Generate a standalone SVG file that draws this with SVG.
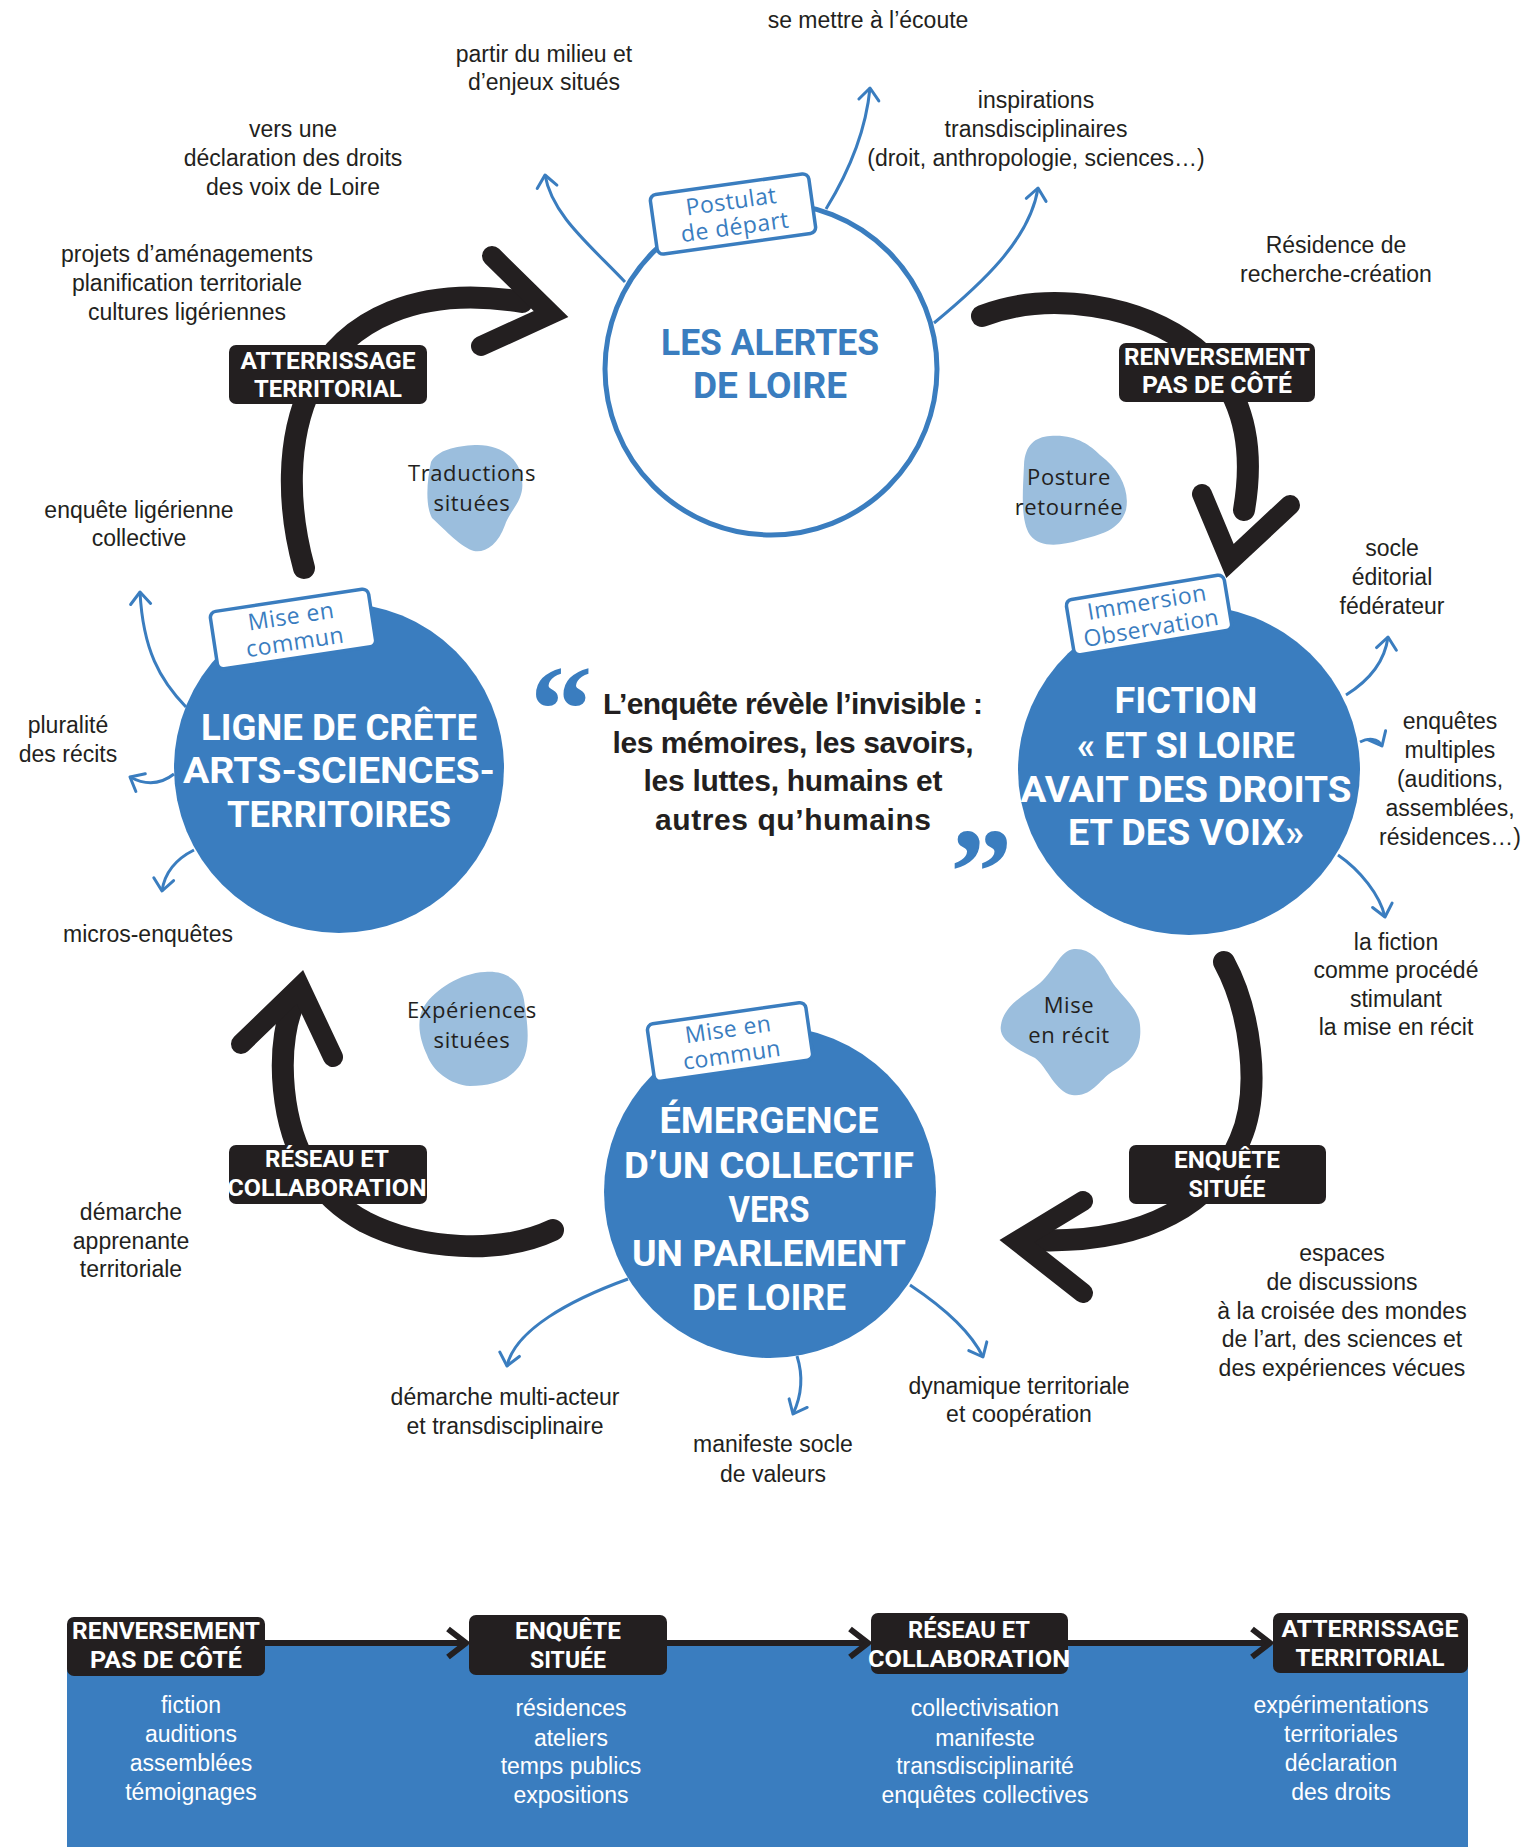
<svg xmlns="http://www.w3.org/2000/svg" width="1529" height="1847" viewBox="0 0 1529 1847">
<style>
.ann{font-family:"Liberation Sans",Arial,sans-serif;font-size:23px;fill:#231f20;text-anchor:middle}
.bot{font-family:"Liberation Sans",Arial,sans-serif;font-size:23px;fill:#ffffff;text-anchor:middle}
.blobt{font-family:"Open Sans","Noto Sans",sans-serif;font-size:22px;fill:#231f20;text-anchor:middle;letter-spacing:0.6px}
.tagt{font-family:"Open Sans","Noto Sans",sans-serif;font-size:23px;fill:#3a7dbf;text-anchor:middle;letter-spacing:0.5px}
.big{font-family:Roboto,"Liberation Sans",sans-serif;font-weight:700;font-size:36px;fill:#ffffff;text-anchor:middle}
.bigb{font-family:Roboto,"Liberation Sans",sans-serif;font-weight:700;font-size:36px;fill:#3a7dbf;text-anchor:middle}
.boxt{font-family:Roboto,"Liberation Sans",sans-serif;font-weight:700;font-size:23px;fill:#ffffff;text-anchor:middle}
.quote{font-family:"Liberation Sans",Arial,sans-serif;font-weight:700;font-size:30px;fill:#231f20;text-anchor:middle}
.qm{font-family:"Liberation Serif","Times New Roman",serif;font-weight:700;font-size:125px;fill:#3a7dbf}
.box{fill:#231f20}
.tag{fill:#ffffff;stroke:#3a7dbf;stroke-width:3.5}
.blob{fill:#9bbedd}
.brush{fill:none;stroke:#231f20;stroke-width:22;stroke-linecap:round}
.head{fill:none;stroke:#231f20;stroke-width:20;stroke-linecap:round;stroke-linejoin:miter;stroke-miterlimit:6}
.thin{fill:none;stroke:#3a7dbf;stroke-width:3;marker-end:url(#bh)}
.flow{fill:none;stroke:#231f20;stroke-width:6;marker-end:url(#kh)}
</style>
<defs>
<marker id="bh" markerUnits="userSpaceOnUse" markerWidth="30" markerHeight="30" viewBox="-15 -15 30 30" refX="0" refY="0" orient="auto">
<path d="M-12,-10 L0,0 L-12,10" fill="none" stroke="#3a7dbf" stroke-width="3" stroke-linecap="round" stroke-linejoin="round"/>
</marker>
<marker id="kh" markerUnits="userSpaceOnUse" markerWidth="40" markerHeight="40" viewBox="-20 -20 40 40" refX="0" refY="0" orient="auto">
<path d="M-18,-14 L0,0 L-18,14" fill="none" stroke="#231f20" stroke-width="6"/>
</marker>
</defs>
<rect width="1529" height="1847" fill="#ffffff"/>

<g id="connectors">
<path class="brush" d="M304,568 C288,510 285,440 312,385 C345,318 420,285 522,302"/>
<polyline class="head" points="492,256 551,314 481,346"/>
<path class="brush" d="M982,316 C1050,290 1140,305 1195,348 C1240,385 1256,440 1244,510"/>
<polyline class="head" points="1202,494 1230,561 1290,505"/>
<path class="brush" d="M1224,962 C1250,1010 1262,1090 1240,1140 C1215,1200 1150,1245 1032,1240"/>
<polyline class="head" points="1083,1201 1017,1241 1083,1293"/>
<path class="brush" d="M553,1230 C500,1255 420,1250 365,1222 C315,1195 290,1150 284,1090 C280,1050 286,1015 298,995"/>
<polyline class="head" points="241,1044 300,987 333,1057"/>
<path class="thin" d="M625,282 C590,245 552,215 545,175"/>
<path class="thin" d="M826,209 C850,170 866,130 870,88"/>
<path class="thin" d="M934,323 C980,285 1030,240 1038,188"/>
<path class="thin" d="M186,707 C160,680 143,650 140,592"/>
<path class="thin" d="M174,774 C160,785 145,785 130,777"/>
<path class="thin" d="M194,850 C178,858 165,870 162,891"/>
<path class="thin" d="M1346,695 C1370,680 1385,660 1388,637"/>
<path class="thin" d="M1360,742 C1368,738 1378,738 1382,746"/>
<path class="thin" d="M1338,855 C1360,870 1380,895 1385,917"/>
<path class="thin" d="M628,1279 C570,1300 515,1330 507,1366"/>
<path class="thin" d="M797,1356 C803,1375 802,1395 793,1414"/>
<path class="thin" d="M910,1285 C940,1305 970,1330 983,1357"/>
</g>

<g id="blob-traductions">
<path class="blob" d="M475,445 C500,444 520,458 522,480 C525,500 510,510 505,525 C498,545 485,553 474,551 C462,548 445,530 432,518 C425,505 427,480 431,462 C438,450 455,446 475,445 Z"/>
<text class="blobt" x="472" y="481">Traductions</text>
<text class="blobt" x="472" y="511">situées</text>
</g>
<g id="blob-posture">
<path class="blob" d="M1050,436 C1075,434 1090,445 1100,455 C1120,470 1130,490 1126,510 C1120,530 1100,535 1080,540 C1060,546 1040,548 1030,535 C1020,520 1023,490 1024,465 C1025,445 1035,437 1050,436 Z"/>
<text class="blobt" x="1069" y="485">Posture</text>
<text class="blobt" x="1069" y="515">retournée</text>
</g>
<g id="blob-experiences">
<path class="blob" d="M485,972 C510,970 522,985 524,1000 C527,1020 530,1040 525,1055 C518,1075 500,1086 470,1086 C450,1085 432,1070 427,1055 C420,1040 415,1020 425,1005 C435,990 460,973 485,972 Z"/>
<text class="blobt" x="472" y="1018">Expériences</text>
<text class="blobt" x="472" y="1048">situées</text>
</g>
<g id="blob-recit">
<path class="blob" d="M1074,949 C1090,948 1100,960 1108,975 C1118,995 1138,1005 1140,1025 C1142,1045 1135,1060 1115,1070 C1100,1078 1092,1098 1072,1095 C1055,1092 1048,1068 1035,1058 C1015,1048 998,1040 1001,1025 C1004,1005 1025,995 1040,983 C1055,970 1060,950 1074,949 Z"/>
<text class="blobt" x="1069" y="1013">Mise</text>
<text class="blobt" x="1069" y="1043">en récit</text>
</g>

<g id="node-alertes">
<circle cx="771" cy="369" r="166" fill="#ffffff" stroke="#3a7dbf" stroke-width="5"/>
<text class="bigb" x="770" y="355" textLength="218" lengthAdjust="spacingAndGlyphs">LES ALERTES</text>
<text class="bigb" x="770" y="398" textLength="154" lengthAdjust="spacingAndGlyphs">DE LOIRE</text>
<g transform="translate(733,214) rotate(-8)">
<rect class="tag" x="-80" y="-30" width="160" height="60" rx="6"/>
<text class="tagt" x="0" y="-5">Postulat</text>
<text class="tagt" x="0" y="21">de départ</text>
</g>
</g>

<g id="node-ligne">
<circle cx="339" cy="768" r="165" fill="#3a7dbf"/>
<text class="big" x="339" y="740" textLength="276" lengthAdjust="spacingAndGlyphs">LIGNE DE CRÊTE</text>
<text class="big" x="339" y="783" textLength="312" lengthAdjust="spacingAndGlyphs">ARTS-SCIENCES-</text>
<text class="big" x="339" y="827" textLength="224" lengthAdjust="spacingAndGlyphs">TERRITOIRES</text>
<g transform="translate(293,629) rotate(-8.6)">
<rect class="tag" x="-80" y="-29" width="160" height="58" rx="6"/>
<text class="tagt" x="0" y="-5">Mise en</text>
<text class="tagt" x="0" y="21">commun</text>
</g>
</g>

<g id="node-fiction">
<ellipse cx="1189" cy="770" rx="171" ry="165" fill="#3a7dbf"/>
<text class="big" x="1186" y="713" textLength="143" lengthAdjust="spacingAndGlyphs">FICTION</text>
<text class="big" x="1186" y="758" textLength="218" lengthAdjust="spacingAndGlyphs">« ET SI LOIRE</text>
<text class="big" x="1186" y="802" textLength="331" lengthAdjust="spacingAndGlyphs">AVAIT DES DROITS</text>
<text class="big" x="1186" y="845" textLength="236" lengthAdjust="spacingAndGlyphs">ET DES VOIX»</text>
<g transform="translate(1149,615) rotate(-9.4)">
<rect class="tag" x="-80" y="-28" width="160" height="56" rx="6"/>
<text class="tagt" x="0" y="-5">Immersion</text>
<text class="tagt" x="0" y="21">Observation</text>
</g>
</g>

<g id="node-emergence">
<circle cx="770" cy="1192" r="166" fill="#3a7dbf"/>
<text class="big" x="769" y="1133" textLength="219" lengthAdjust="spacingAndGlyphs">ÉMERGENCE</text>
<text class="big" x="769" y="1178" textLength="290" lengthAdjust="spacingAndGlyphs">D’UN COLLECTIF</text>
<text class="big" x="769" y="1222" textLength="81" lengthAdjust="spacingAndGlyphs">VERS</text>
<text class="big" x="769" y="1266" textLength="274" lengthAdjust="spacingAndGlyphs">UN PARLEMENT</text>
<text class="big" x="769" y="1310" textLength="154" lengthAdjust="spacingAndGlyphs">DE LOIRE</text>
<g transform="translate(730,1042) rotate(-8.2)">
<rect class="tag" x="-80" y="-29" width="160" height="58" rx="6"/>
<text class="tagt" x="0" y="-5">Mise en</text>
<text class="tagt" x="0" y="21">commun</text>
</g>
</g>

<g id="label-atterrissage">
<rect class="box" x="229" y="345" width="198" height="59" rx="7"/>
<text class="boxt" x="328" y="369" textLength="175" lengthAdjust="spacingAndGlyphs">ATTERRISSAGE</text>
<text class="boxt" x="328" y="397" textLength="148" lengthAdjust="spacingAndGlyphs">TERRITORIAL</text>
</g>
<g id="label-renversement">
<rect class="box" x="1119" y="343" width="196" height="59" rx="7"/>
<text class="boxt" x="1217" y="365" textLength="186" lengthAdjust="spacingAndGlyphs">RENVERSEMENT</text>
<text class="boxt" x="1217" y="393" textLength="150" lengthAdjust="spacingAndGlyphs">PAS DE CÔTÉ</text>
</g>
<g id="label-enquete">
<rect class="box" x="1129" y="1145" width="197" height="59" rx="7"/>
<text class="boxt" x="1227" y="1168" textLength="106" lengthAdjust="spacingAndGlyphs">ENQUÊTE</text>
<text class="boxt" x="1227" y="1197" textLength="77" lengthAdjust="spacingAndGlyphs">SITUÉE</text>
</g>
<g id="label-reseau">
<rect class="box" x="229" y="1145" width="198" height="59" rx="7"/>
<text class="boxt" x="327" y="1167" textLength="124" lengthAdjust="spacingAndGlyphs">RÉSEAU ET</text>
<text class="boxt" x="327" y="1196" textLength="199" lengthAdjust="spacingAndGlyphs">COLLABORATION</text>
</g>

<g id="quote">
<text class="qm" x="530" y="751">“</text>
<text class="quote" x="793" y="714" textLength="380">L’enquête révèle l’invisible :</text>
<text class="quote" x="793" y="753" textLength="361">les mémoires, les savoirs,</text>
<text class="quote" x="793" y="791" textLength="299">les luttes, humains et</text>
<text class="quote" x="793" y="830" textLength="276">autres qu’humains</text>
<text class="qm" x="950" y="914">”</text>
</g>

<g id="annotations">
<text class="ann" x="868" y="28">se mettre à l’écoute</text>
<text class="ann" x="544" y="62">partir du milieu et</text>
<text class="ann" x="544" y="90">d’enjeux situés</text>
<text class="ann" x="293" y="137">vers une</text>
<text class="ann" x="293" y="166">déclaration des droits</text>
<text class="ann" x="293" y="195">des voix de Loire</text>
<text class="ann" x="187" y="262">projets d’aménagements</text>
<text class="ann" x="187" y="291">planification territoriale</text>
<text class="ann" x="187" y="320">cultures ligériennes</text>
<text class="ann" x="1036" y="108">inspirations</text>
<text class="ann" x="1036" y="137">transdisciplinaires</text>
<text class="ann" x="1036" y="166">(droit, anthropologie, sciences…)</text>
<text class="ann" x="1336" y="253">Résidence de</text>
<text class="ann" x="1336" y="282">recherche-création</text>
<text class="ann" x="139" y="518">enquête ligérienne</text>
<text class="ann" x="139" y="546">collective</text>
<text class="ann" x="1392" y="556">socle</text>
<text class="ann" x="1392" y="585">éditorial</text>
<text class="ann" x="1392" y="614">fédérateur</text>
<text class="ann" x="1450" y="729">enquêtes</text>
<text class="ann" x="1450" y="758">multiples</text>
<text class="ann" x="1450" y="787">(auditions,</text>
<text class="ann" x="1450" y="816">assemblées,</text>
<text class="ann" x="1450" y="845">résidences…)</text>
<text class="ann" x="68" y="733">pluralité</text>
<text class="ann" x="68" y="762">des récits</text>
<text class="ann" x="148" y="942">micros-enquêtes</text>
<text class="ann" x="1396" y="950">la fiction</text>
<text class="ann" x="1396" y="978">comme procédé</text>
<text class="ann" x="1396" y="1007">stimulant</text>
<text class="ann" x="1396" y="1035">la mise en récit</text>
<text class="ann" x="131" y="1220">démarche</text>
<text class="ann" x="131" y="1249">apprenante</text>
<text class="ann" x="131" y="1277">territoriale</text>
<text class="ann" x="1342" y="1261">espaces</text>
<text class="ann" x="1342" y="1290">de discussions</text>
<text class="ann" x="1342" y="1319">à la croisée des mondes</text>
<text class="ann" x="1342" y="1347">de l’art, des sciences et</text>
<text class="ann" x="1342" y="1376">des expériences vécues</text>
<text class="ann" x="505" y="1405">démarche multi-acteur</text>
<text class="ann" x="505" y="1434">et transdisciplinaire</text>
<text class="ann" x="773" y="1452">manifeste socle</text>
<text class="ann" x="773" y="1482">de valeurs</text>
<text class="ann" x="1019" y="1394">dynamique territoriale</text>
<text class="ann" x="1019" y="1422">et coopération</text>
</g>

<g id="summary">
<rect x="67" y="1645" width="1401" height="202" fill="#3a7dbf"/>
<g id="summary-connectors">
<line class="flow" x1="265" y1="1643" x2="466" y2="1643"/>
<line class="flow" x1="667" y1="1643" x2="868" y2="1643"/>
<line class="flow" x1="1068" y1="1643" x2="1270" y2="1643"/>
</g>
<g id="step-renversement">
<rect class="box" x="67" y="1617" width="198" height="59" rx="7"/>
<text class="boxt" x="166" y="1639" textLength="188" lengthAdjust="spacingAndGlyphs">RENVERSEMENT</text>
<text class="boxt" x="166" y="1668" textLength="152" lengthAdjust="spacingAndGlyphs">PAS DE CÔTÉ</text>
<text class="bot" x="191" y="1713">fiction</text>
<text class="bot" x="191" y="1742">auditions</text>
<text class="bot" x="191" y="1771">assemblées</text>
<text class="bot" x="191" y="1800">témoignages</text>
</g>
<g id="step-enquete">
<rect class="box" x="469" y="1615" width="198" height="60" rx="7"/>
<text class="boxt" x="568" y="1639" textLength="106" lengthAdjust="spacingAndGlyphs">ENQUÊTE</text>
<text class="boxt" x="568" y="1668" textLength="76" lengthAdjust="spacingAndGlyphs">SITUÉE</text>
<text class="bot" x="571" y="1716">résidences</text>
<text class="bot" x="571" y="1746">ateliers</text>
<text class="bot" x="571" y="1774">temps publics</text>
<text class="bot" x="571" y="1803">expositions</text>
</g>
<g id="step-reseau">
<rect class="box" x="871" y="1613" width="197" height="61" rx="7"/>
<text class="boxt" x="969" y="1638" textLength="122" lengthAdjust="spacingAndGlyphs">RÉSEAU ET</text>
<text class="boxt" x="969" y="1667" textLength="202" lengthAdjust="spacingAndGlyphs">COLLABORATION</text>
<text class="bot" x="985" y="1716">collectivisation</text>
<text class="bot" x="985" y="1746">manifeste</text>
<text class="bot" x="985" y="1774">transdisciplinarité</text>
<text class="bot" x="985" y="1803">enquêtes collectives</text>
</g>
<g id="step-atterrissage">
<rect class="box" x="1273" y="1613" width="195" height="60" rx="7"/>
<text class="boxt" x="1370" y="1637" textLength="177" lengthAdjust="spacingAndGlyphs">ATTERRISSAGE</text>
<text class="boxt" x="1370" y="1666" textLength="149" lengthAdjust="spacingAndGlyphs">TERRITORIAL</text>
<text class="bot" x="1341" y="1713">expérimentations</text>
<text class="bot" x="1341" y="1742">territoriales</text>
<text class="bot" x="1341" y="1771">déclaration</text>
<text class="bot" x="1341" y="1800">des droits</text>
</g>
</g>
</svg>
